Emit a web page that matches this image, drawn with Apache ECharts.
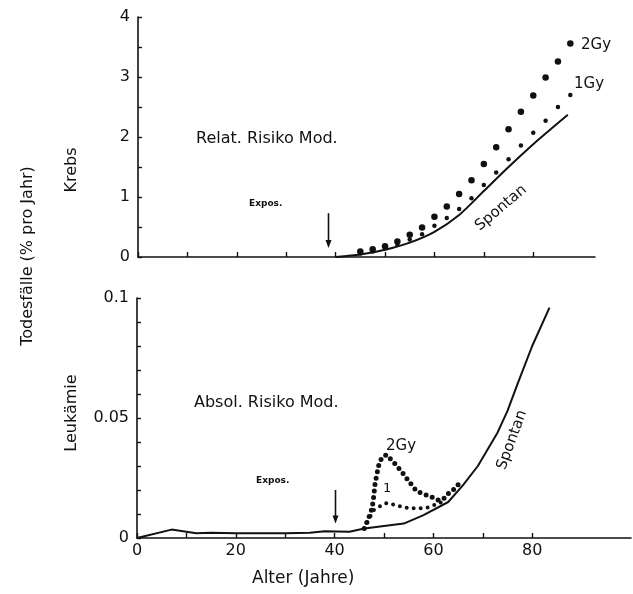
<!DOCTYPE html>
<html>
<head>
<meta charset="utf-8">
<title>Todesfälle – Krebs und Leukämie</title>
<script src="https://cdn.jsdelivr.net/npm/echarts@6/dist/echarts.min.js"></script>
<style>
  html, body { margin: 0; padding: 0; background: #fff; }
  #chart { width: 633px; height: 594px; }
</style>
</head>
<body>
<div id="chart"></div>
<script>
// Krebs (relatives Risiko-Modell), Todesfälle in % pro Jahr
const krebsSpontan = [[40,0],[45,0.04],[50,0.12],[55,0.24],[60,0.42],[65,0.7],[70,1.1],[75,1.5],[80,1.88],[87,2.37]];
const krebs2Gy = [[45,0.09],[47.5,0.13],[50,0.18],[52.5,0.26],[55,0.37],[57.5,0.49],[60,0.67],[62.5,0.84],[65,1.05],[67.5,1.28],[70,1.55],[72.5,1.83],[75,2.13],[77.5,2.42],[80,2.69],[82.5,2.99],[85,3.26],[87.5,3.56]];
const krebs1Gy = [[45,0.06],[47.5,0.09],[50,0.14],[52.5,0.2],[55,0.29],[57.5,0.38],[60,0.52],[62.5,0.65],[65,0.8],[67.5,0.98],[70,1.2],[72.5,1.41],[75,1.63],[77.5,1.86],[80,2.07],[82.5,2.27],[85,2.5],[87.5,2.7]];

// Leukämie (absolutes Risiko-Modell)
const leukSpontan = [[0,0],[7,0.0035],[12,0.002],[15,0.0022],[20,0.002],[30,0.002],[35,0.0022],[38,0.0028],[43,0.0026],[46,0.004],[54,0.006],[58,0.0095],[63,0.015],[66,0.022],[69,0.03],[73,0.044],[75,0.053],[77,0.064],[80,0.08],[83.5,0.096]];
const leuk2Gy = [[46,0.004],[47,0.009],[47.6,0.0125],[47.9,0.017],[48.2,0.0228],[48.6,0.027],[49,0.031],[49.6,0.0336],[50.5,0.0347],[51.3,0.033],[52.2,0.031],[53.6,0.0276],[54.9,0.024],[56.6,0.0195],[58.6,0.0179],[60,0.0168],[61,0.0158],[62,0.0162],[63,0.0185],[64,0.02],[65,0.0222]];
const leuk1Gy = [[46,0.004],[47,0.008],[47.8,0.0115],[49,0.013],[50.5,0.0145],[52.2,0.0138],[54,0.0128],[55.6,0.0124],[57.3,0.0124],[59,0.0128],[60.3,0.0138],[61.7,0.015]];

// Achsen
const ageTicks = [0,10,20,30,40,50,60,70,80];
const ageLabels = [0,20,40,60,80];
const krebsTicks = [0,0.5,1,1.5,2,2.5,3,3.5,4];
const krebsLabels = [0,1,2,3,4];
const leukTicks = [0,0.01,0.02,0.03,0.04,0.05,0.06,0.07,0.08,0.09,0.1];
const leukLabels = [0,0.05,0.1];
const exposAge = 40;

const FONT = 'DejaVu Sans';
const INK = '#111';

const chart = echarts.init(document.getElementById('chart'), null, { renderer: 'canvas' });

function xAxisDef(gridIndex, max, withLabels) {
  return {
    type: 'value', gridIndex, min: 0, max,
    axisLine: { lineStyle: { color: INK, width: 1.6 } },
    axisTick: { inside: true, length: 5, lineStyle: { color: INK, width: 1.4 }, customValues: ageTicks },
    axisLabel: withLabels
      ? { customValues: ageLabels, color: INK, fontFamily: FONT, fontSize: 16, margin: 5 }
      : { show: false },
    splitLine: { show: false }
  };
}
function yAxisDef(gridIndex, max, ticks, labels, fmt) {
  return {
    type: 'value', gridIndex, min: 0, max,
    axisLine: { show: true, lineStyle: { color: INK, width: 1.6 } },
    axisTick: { show: true, inside: true, length: 4, lineStyle: { color: INK, width: 1.4 }, customValues: ticks },
    axisLabel: { customValues: labels, color: INK, fontFamily: FONT, fontSize: 16, margin: 8, formatter: fmt },
    splitLine: { show: false }
  };
}

const option = {
  animation: false,
  backgroundColor: '#fff',
  grid: [
    { left: 138, top: 17, width: 457, height: 240 },
    { left: 137, top: 298, width: 494, height: 240 }
  ],
  xAxis: [xAxisDef(0, 92.5, false), xAxisDef(1, 100, true)],
  yAxis: [
    yAxisDef(0, 4, krebsTicks, krebsLabels, v => String(v)),
    yAxisDef(1, 0.1, leukTicks, leukLabels, v => String(v))
  ],
  series: [
    { name: 'Spontan', type: 'line', xAxisIndex: 0, yAxisIndex: 0, data: krebsSpontan,
      smooth: 0.25, showSymbol: false,
      lineStyle: { color: INK, width: 2 } },
    { name: '2Gy', type: 'scatter', xAxisIndex: 0, yAxisIndex: 0, data: krebs2Gy,
      symbolSize: 6.5, itemStyle: { color: INK, opacity: 1 } },
    { name: '1Gy', type: 'scatter', xAxisIndex: 0, yAxisIndex: 0, data: krebs1Gy,
      symbolSize: 4.5, itemStyle: { color: INK, opacity: 1 } },
    { name: 'Spontan L', type: 'line', xAxisIndex: 1, yAxisIndex: 1, data: leukSpontan,
      showSymbol: false, lineStyle: { color: INK, width: 2 } },
    { name: '2Gy L', type: 'line', xAxisIndex: 1, yAxisIndex: 1, data: leuk2Gy,
      showSymbol: false, lineStyle: { color: INK, width: 5, type: [0, 6.5], cap: 'round' } },
    { name: '1Gy L', type: 'line', xAxisIndex: 1, yAxisIndex: 1, data: leuk1Gy,
      showSymbol: false, lineStyle: { color: INK, width: 4, type: [0, 7], cap: 'round' } }
  ]
};
chart.setOption(option);

// Text labels and the exposure arrows
function txt(text, x, y, size, extra) {
  return Object.assign({
    type: 'text', x, y,
    style: { text, fill: INK, font: (extra && extra.weight || 'normal') + ' ' + size + 'px "' + FONT + '"',
      textAlign: 'left', textVerticalAlign: 'middle' }
  }, extra && extra.props || {});
}
function vtxt(text, cx, cy, size, deg) {
  return {
    type: 'text', x: cx, y: cy, rotation: deg * Math.PI / 180,
    style: { text, fill: INK, font: 'normal ' + size + 'px "' + FONT + '"',
      textAlign: 'center', textVerticalAlign: 'middle' }
  };
}
function arrow(gridIndex, age, yFrom, yTo) {
  const p1 = chart.convertToPixel({ gridIndex }, [age, yFrom]);
  const p2 = chart.convertToPixel({ gridIndex }, [age, yTo]);
  const x = Math.round(p1[0]) + 0.5;
  return [
    { type: 'line', shape: { x1: x, y1: p1[1], x2: x, y2: p2[1] - 6 }, style: { stroke: INK, lineWidth: 1.6 } },
    { type: 'polygon', shape: { points: [[x - 3, p2[1] - 8], [x + 3, p2[1] - 8], [x, p2[1]]] }, style: { fill: INK } }
  ];
}

const graphics = [
  txt('Relat. Risiko Mod.', 196, 139, 16),
  txt('Expos.', 249, 204, 9, { weight: 'bold' }),
  txt('Absol. Risiko Mod.', 194, 403, 16),
  txt('Expos.', 256, 481, 9, { weight: 'bold' }),
  txt('2Gy', 581, 45, 15),
  txt('1Gy', 574, 84, 15),
  txt('2Gy', 386, 446, 15),
  txt('1', 383, 489, 13),
  vtxt('Spontan', 501, 208, 15, 40),
  vtxt('Spontan', 512, 440, 15, 70),
  vtxt('Krebs', 72, 170, 16, 90),
  vtxt('Leukämie', 72, 413, 16, 90),
  vtxt('Todesfälle (% pro Jahr)', 28, 256, 16, 90),
  txt('Alter (Jahre)', 252, 579, 17)
].concat(arrow(0, exposAge - 1.5, 0.73, 0.15), arrow(1, exposAge, 0.02, 0.006));

chart.setOption({ graphic: graphics });
</script>
</body>
</html>
